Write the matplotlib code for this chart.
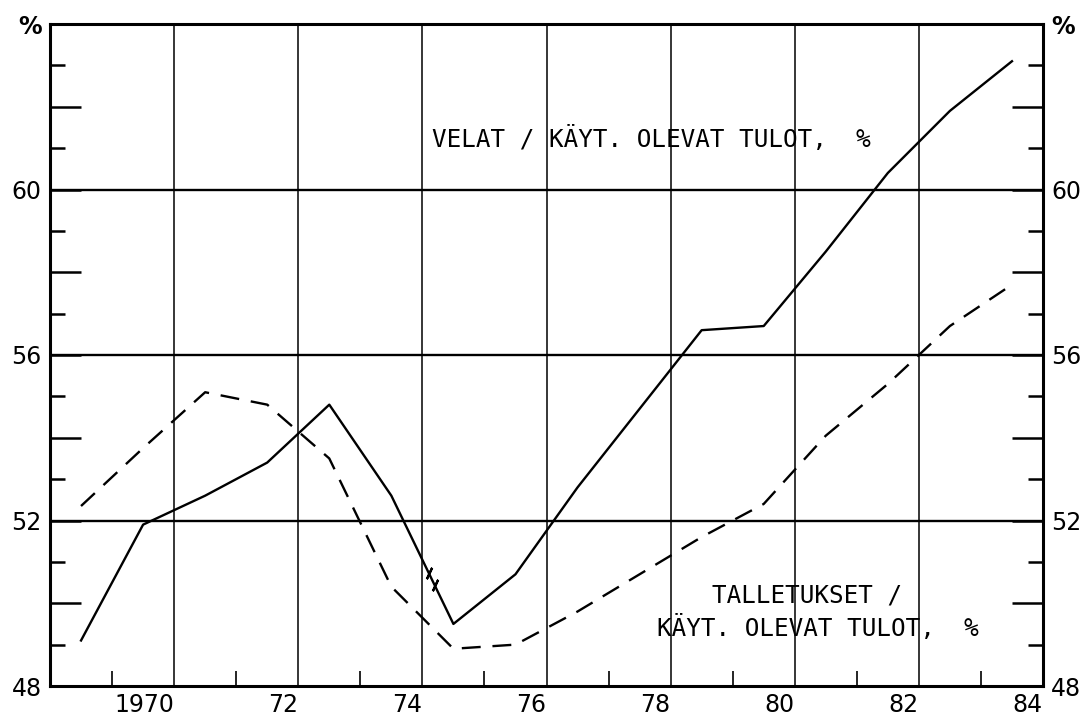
import numpy as np
import matplotlib
matplotlib.use('Agg')
import matplotlib.pyplot as plt
from matplotlib.transforms import ScaledTranslation

plt.rcParams['font.family'] = ['DejaVu Sans']

# vuosittaiset arvot, piirretaan vuoden puoliväliin
vuodet = [1969, 1970, 1971, 1972, 1973, 1974, 1975, 1976,
          1977, 1978, 1979, 1980, 1981, 1982, 1983, 1984]
velat = [49.1, 51.9, 52.6, 53.4, 54.8, 52.6, 49.5, 50.7,
         52.8, 54.7, 56.6, 56.7, 58.5, 60.4, 61.9, 63.1]
talletukset = [52.35, 53.75, 55.1, 54.8, 53.5, 50.4, 48.9, 49.0,
               49.8, 50.7, 51.6, 52.4, 54.05, 55.3, 56.7, 57.7]

x_labels = ['1970', '72', '74', '76', '78', '80', '82', '84']
y_labels = ['48', '', '52', '', '56', '', '60', '', '%']

x = np.array(vuodet) + 0.5

fig = plt.figure(figsize=(10.87, 7.18), dpi=100)
ax = fig.add_axes([50 / 1087, 32 / 718, 993 / 1087, 662 / 718])

ax.set_xlim(1969, 1985)
ax.set_ylim(48, 64)

# ruudukko
for v in range(1971, 1985, 2):
    ax.axvline(v, color='black', lw=1.1, zorder=1)
for h in (52, 56, 60):
    ax.axhline(h, color='black', lw=1.7, zorder=1)

ax.plot(x, velat, color='black', lw=1.7, zorder=3)
ax.plot(x, talletukset, color='black', lw=1.7, dashes=(8, 5), zorder=3)

# katkosmerkki velat-käyrässä
bx = np.array([1975.1, 1975.2])
by = np.interp(bx, x, velat)
ax.plot(bx, by, ls='none', marker=(2, 2, -25), ms=9, mew=1.6, color='black', zorder=4)

# akselit
for s in ax.spines.values():
    s.set_linewidth(2.2)

ax.set_xticks(range(1971, 1986, 2))
ax.set_xticklabels(x_labels, ha='right')
offset = ScaledTranslation(-4 / 100, 0, fig.dpi_scale_trans)
for lab in ax.get_xticklabels():
    lab.set_transform(lab.get_transform() + offset)
ax.set_xticks(range(1970, 1985, 2), minor=True)
ax.tick_params(axis='x', which='major', length=0, pad=5, labelsize=17)
ax.tick_params(axis='x', which='minor', direction='in', length=11, width=1.2,
               bottom=True, top=False)

ax.set_yticks(range(48, 65, 2))
ax.set_yticklabels(y_labels)
ax.set_yticks(range(49, 64, 2), minor=True)
ax.tick_params(axis='y', which='major', direction='in', length=22, width=1.8,
               left=True, right=True, labelleft=True, labelright=True,
               labelsize=17, pad=6)
ax.tick_params(axis='y', which='minor', direction='in', length=11, width=1.8,
               left=True, right=True)
for lab in ax.get_yticklabels():
    if lab.get_text() == '%':
        lab.set_fontweight('bold')

mono = 'DejaVu Sans Mono'
ax.text(0.606, 0.826, 'VELAT / KÄYT. OLEVAT TULOT,  %', transform=ax.transAxes,
        ha='center', va='center', fontsize=17.5, family=mono)
ax.text(0.762, 0.137, 'TALLETUKSET /', transform=ax.transAxes,
        ha='center', va='center', fontsize=17.5, family=mono)
ax.text(0.773, 0.088, 'KÄYT. OLEVAT TULOT,  %', transform=ax.transAxes,
        ha='center', va='center', fontsize=17.5, family=mono)

fig.savefig('out.png', dpi=100)
